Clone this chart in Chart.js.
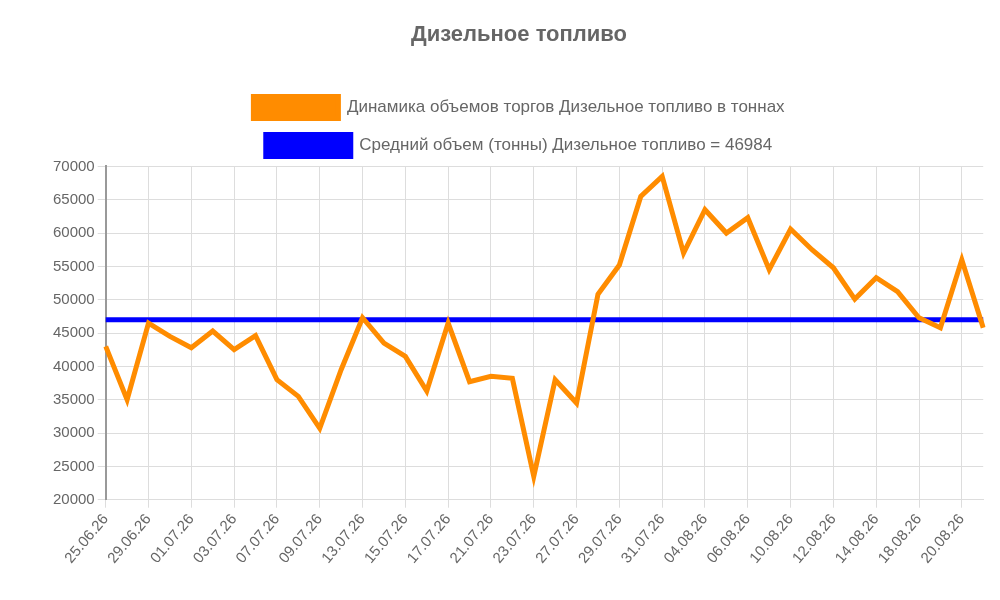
<!DOCTYPE html>
<html><head><meta charset="utf-8">
<script src="https://cdn.jsdelivr.net/npm/chart.js"></script>
<style>html,body{margin:0;padding:0;background:#fff}#w{width:1000px;height:600px}</style>
</head><body><div id="w"><canvas id="c"></canvas></div>
<script>
const labels = ["25.06.26","26.06.26","29.06.26","30.06.26","01.07.26","02.07.26","03.07.26","06.07.26","07.07.26","08.07.26","09.07.26","10.07.26","13.07.26","14.07.26","15.07.26","16.07.26","17.07.26","20.07.26","21.07.26","22.07.26","23.07.26","24.07.26","27.07.26","28.07.26","29.07.26","30.07.26","31.07.26","03.08.26","04.08.26","05.08.26","06.08.26","07.08.26","10.08.26","11.08.26","12.08.26","13.08.26","14.08.26","17.08.26","18.08.26","19.08.26","20.08.26","21.08.26"];
const volumes = [43000,35000,46500,44500,42800,45300,42500,44600,38000,35500,30700,39500,47300,43500,41500,36300,46500,37700,38500,38200,23500,38000,34500,50800,55200,65500,68500,57000,63500,60000,62300,54500,60600,57500,54800,50100,53300,51200,47300,45800,56000,45800];
const average = 46984;
const avgLine = labels.map(() => average);
Chart.defaults.font.family = "'Liberation Sans', Arial, sans-serif";
Chart.defaults.color = "#666";
new Chart(document.getElementById('c'), {
  type: 'line',
  data: { labels, datasets: [
    { label: 'Динамика объемов торгов Дизельное топливо в тоннах', data: volumes, borderColor: '#ff8c00', backgroundColor: '#ff8c00', borderWidth: 5, pointRadius: 0, tension: 0, fill: false },
    { label: 'Средний объем (тонны) Дизельное топливо = ' + average, data: avgLine, borderColor: '#0000ff', backgroundColor: '#0000ff', borderWidth: 5, pointRadius: 0, fill: false }
  ]},
  options: {
    responsive: true, maintainAspectRatio: false, animation: false,
    layout: { padding: { right: 12, left: 50, bottom: 30 } },
    plugins: {
      title: { display: true, text: 'Дизельное топливо', font: { size: 22, weight: 'bold' }, padding: { top: 22, bottom: 32 } },
      legend: { labels: { boxWidth: 85, boxHeight: 22, font: { size: 17 }, padding: 16 } },
      tooltip: { enabled: false }
    },
    scales: {
      x: { grid: { color: (ctx) => (ctx.index % 2 === 0 ? '#ddd' : 'rgba(0,0,0,0)') },
           border: { color: '#ddd' },
           ticks: { autoSkip: false, maxRotation: 50, minRotation: 50, font: { size: 15 },
             callback: function(v, i) { return i % 2 === 0 ? labels[i] : ''; } } },
      y: { min: 20000, max: 70000, grid: { color: '#ddd' }, border: { color: '#999', width: 2 },
           ticks: { stepSize: 5000, font: { size: 15 }, callback: (v) => String(v) } }
    }
  }
});
</script></body></html>
